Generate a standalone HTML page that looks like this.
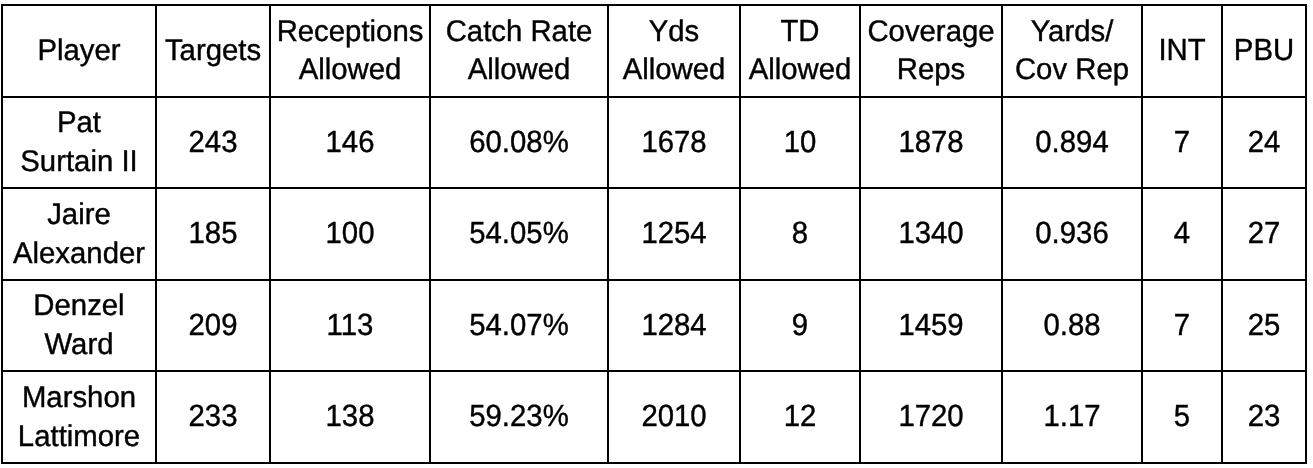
<!DOCTYPE html>
<html lang="en"><head><meta charset="utf-8"><title>Cornerback coverage table</title>
<style>
html,body{margin:0;padding:0;background:#fff;}
body{width:1313px;height:468px;position:relative;overflow:hidden;font-family:"Liberation Sans",Arial,Helvetica,sans-serif;color:#000;}
table{position:absolute;left:1px;top:4px;width:1306px;height:460px;border-collapse:collapse;table-layout:fixed;border-spacing:0;margin:0;}
td,th{border:2px solid #000;padding:0;position:relative;font-weight:normal;overflow:visible;}
.t{position:absolute;left:0;width:100%;height:40px;line-height:40px;text-align:center;font-size:29.33px;white-space:nowrap;text-rendering:geometricPrecision;-webkit-text-stroke:0.4px #000;}
.u,.m{transform:scaleY(1.045);transform-origin:50% 29px;}
.m{transform:scaleY(1.02);}
</style></head><body>
<table>
<colgroup>
<col style="width:154px">
<col style="width:114px">
<col style="width:160px">
<col style="width:178px">
<col style="width:132px">
<col style="width:120px">
<col style="width:142px">
<col style="width:140px">
<col style="width:80px">
<col style="width:84px">
</colgroup>
<thead><tr style="height:92px">
<th><div class="t m" style="top:25px">Player</div></th>
<th><div class="t m" style="top:25px">Targets</div></th>
<th><div class="t m" style="top:6px">Receptions</div><div class="t m" style="top:44px">Allowed</div></th>
<th><div class="t m" style="top:6px">Catch Rate</div><div class="t m" style="top:44px">Allowed</div></th>
<th><div class="t m" style="top:6px">Yds</div><div class="t m" style="top:44px">Allowed</div></th>
<th><div class="t u" style="top:6px">TD</div><div class="t m" style="top:44px">Allowed</div></th>
<th><div class="t m" style="top:6px">Coverage</div><div class="t m" style="top:44px">Reps</div></th>
<th><div class="t m" style="top:6px">Yards/</div><div class="t m" style="top:44px">Cov Rep</div></th>
<th><div class="t u" style="top:25px">INT</div></th>
<th><div class="t u" style="top:25px">PBU</div></th>
</tr></thead>
<tbody><tr style="height:91px">
<td><div class="t m" style="top:5px">Pat</div><div class="t m" style="top:44px">Surtain II</div></td>
<td><div class="t u" style="top:25px">243</div></td>
<td><div class="t u" style="top:25px">146</div></td>
<td><div class="t u" style="top:25px">60.08%</div></td>
<td><div class="t u" style="top:25px">1678</div></td>
<td><div class="t u" style="top:25px">10</div></td>
<td><div class="t u" style="top:25px">1878</div></td>
<td><div class="t u" style="top:25px">0.894</div></td>
<td><div class="t u" style="top:25px">7</div></td>
<td><div class="t u" style="top:25px">24</div></td>
</tr>
<tr style="height:92px">
<td><div class="t m" style="top:6px">Jaire</div><div class="t m" style="top:45px">Alexander</div></td>
<td><div class="t u" style="top:25px">185</div></td>
<td><div class="t u" style="top:25px">100</div></td>
<td><div class="t u" style="top:25px">54.05%</div></td>
<td><div class="t u" style="top:25px">1254</div></td>
<td><div class="t u" style="top:25px">8</div></td>
<td><div class="t u" style="top:25px">1340</div></td>
<td><div class="t u" style="top:25px">0.936</div></td>
<td><div class="t u" style="top:25px">4</div></td>
<td><div class="t u" style="top:25px">27</div></td>
</tr>
<tr style="height:91px">
<td><div class="t m" style="top:5px">Denzel</div><div class="t m" style="top:44px">Ward</div></td>
<td><div class="t u" style="top:25px">209</div></td>
<td><div class="t u" style="top:25px">113</div></td>
<td><div class="t u" style="top:25px">54.07%</div></td>
<td><div class="t u" style="top:25px">1284</div></td>
<td><div class="t u" style="top:25px">9</div></td>
<td><div class="t u" style="top:25px">1459</div></td>
<td><div class="t u" style="top:25px">0.88</div></td>
<td><div class="t u" style="top:25px">7</div></td>
<td><div class="t u" style="top:25px">25</div></td>
</tr>
<tr style="height:92px">
<td><div class="t m" style="top:6px">Marshon</div><div class="t m" style="top:45px">Lattimore</div></td>
<td><div class="t u" style="top:25px">233</div></td>
<td><div class="t u" style="top:25px">138</div></td>
<td><div class="t u" style="top:25px">59.23%</div></td>
<td><div class="t u" style="top:25px">2010</div></td>
<td><div class="t u" style="top:25px">12</div></td>
<td><div class="t u" style="top:25px">1720</div></td>
<td><div class="t u" style="top:25px">1.17</div></td>
<td><div class="t u" style="top:25px">5</div></td>
<td><div class="t u" style="top:25px">23</div></td>
</tr></tbody>
</table>
</body></html>
